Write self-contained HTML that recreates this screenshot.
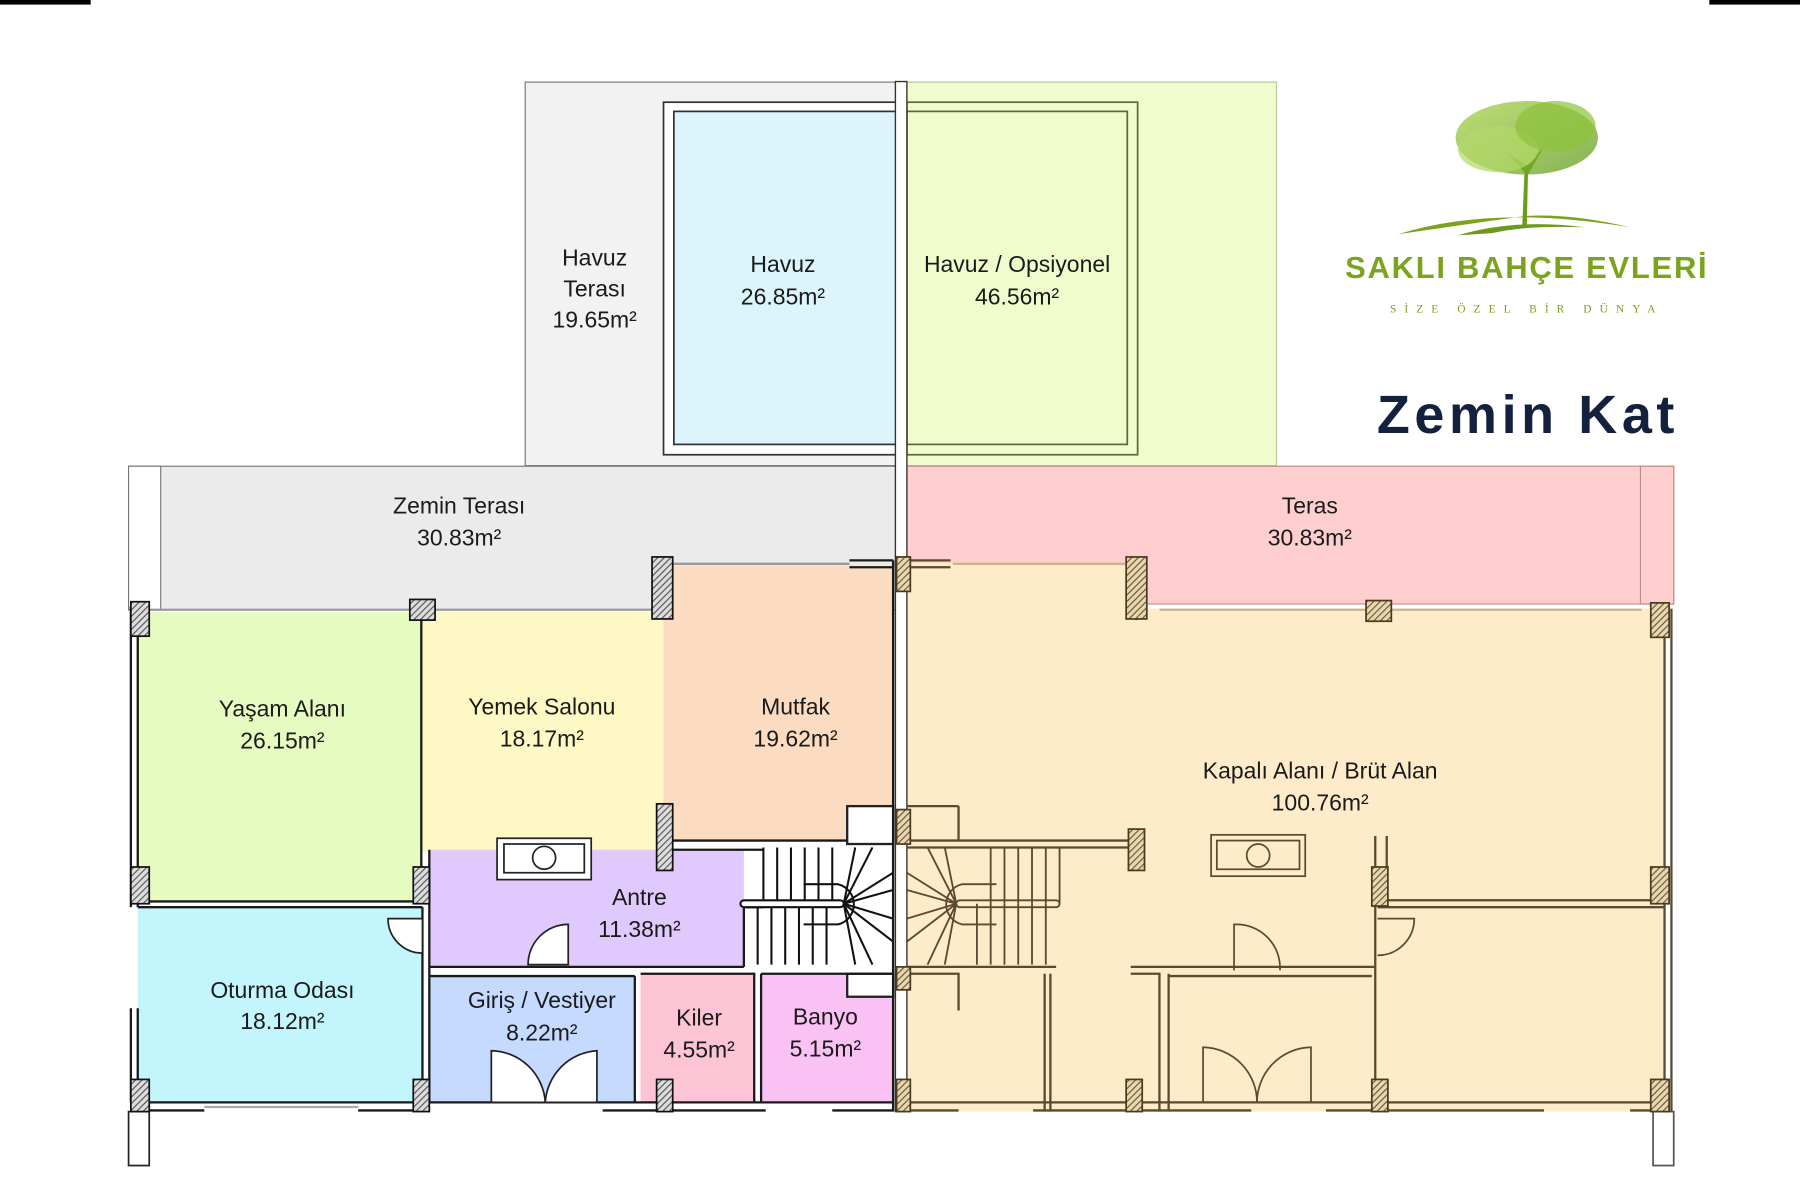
<!DOCTYPE html>
<html><head><meta charset="utf-8"><style>
html,body{margin:0;padding:0;background:#fff;width:1800px;height:1200px;overflow:hidden}
svg{display:block}
text{font-family:"Liberation Sans",sans-serif}
.l{font-size:20px;fill:#1a1a1a;text-anchor:middle}
</style></head><body>
<svg width="1800" height="1200" viewBox="0 0 1568 1045" preserveAspectRatio="none" xmlns="http://www.w3.org/2000/svg">
<defs>
<pattern id="h" width="4" height="4" patternUnits="userSpaceOnUse" patternTransform="rotate(45)"><rect width="4" height="4" fill="#ddd"/><line x1="0" y1="0" x2="0" y2="4" stroke="#555" stroke-width="2"/></pattern>
<pattern id="hb" width="4" height="4" patternUnits="userSpaceOnUse" patternTransform="rotate(45)"><rect width="4" height="4" fill="#e8d7b0"/><line x1="0" y1="0" x2="0" y2="4" stroke="#6b5633" stroke-width="2"/></pattern>
<linearGradient id="tg" x1="0" y1="0" x2="1" y2="1"><stop offset="0" stop-color="#a8d24a"/><stop offset="1" stop-color="#5f9a1c"/></linearGradient>
</defs>
<rect x="0" y="0" width="79" height="4" fill="#000"/>
<rect x="1489" y="0" width="79" height="4" fill="#000"/>

<rect x="457.5" y="71.5" width="324" height="334" fill="#f2f2f2" stroke="#777"/>
<rect x="790" y="71.5" width="322" height="334" fill="#f1fccc" stroke="#b5c88f"/>
<rect x="578" y="89" width="203" height="307" fill="#fff" stroke="#333" stroke-width="1.5"/>
<rect x="587" y="97" width="194" height="290" fill="#dcf4fc" stroke="#333" stroke-width="1.5"/>
<rect x="790" y="89" width="201" height="307" fill="none" stroke="#5a6a40" stroke-width="1.5"/>
<rect x="790" y="97" width="192" height="290" fill="none" stroke="#5a6a40" stroke-width="1.5"/>

<rect x="112" y="406" width="669" height="125" fill="#ebebeb" stroke="#777"/>
<rect x="112" y="406" width="28" height="125" fill="#fff" stroke="#777"/>
<rect x="790" y="406" width="668" height="120" fill="#ffcfcf" stroke="#c08a8a"/>
<rect x="1429" y="406" width="29" height="120" fill="#ffcfcf" stroke="#c08a8a"/>

<path d="M790 490 H1000 V530 H1450 V968 H790 Z" fill="#fdebc9"/>

<rect x="120" y="533" width="247" height="252" fill="#e6fbc0"/>
<rect x="367" y="533" width="211" height="208" fill="#fdf8c4"/>
<rect x="578" y="493" width="200" height="240" fill="#fcdcc1"/>
<rect x="375" y="740" width="290" height="102" fill="#e0c9fc"/>
<rect x="648" y="735" width="130" height="107" fill="#fff"/>
<rect x="120" y="790" width="248" height="170" fill="#c2f6fc"/>
<rect x="375" y="850" width="178" height="110" fill="#c5dafe"/>
<rect x="558" y="848" width="99" height="112" fill="#fcc4d4"/>
<rect x="663" y="848" width="115" height="112" fill="#fac1f5"/>
<rect x="738" y="702" width="40" height="33" fill="#fff" stroke="#222" stroke-width="2"/>
<rect x="738" y="848" width="40" height="20" fill="#fff" stroke="#222" stroke-width="2"/>

<g fill="none" stroke="#1a1a1a" stroke-width="2">
<path d="M120 528 V790 M114 528 V790"/>
<path d="M120 785 H368 M120 790 H368"/>
<path d="M367 533 V785"/>
<path d="M368 790 V960 M374 740 V960"/>
<path d="M375 842 H648 M375 850 H553 M553 850 V960 M558 848 H657 V960 M663 848 V960 M663 848 H778"/>
<path d="M578 732 H738 M585 740 H665 M578 700 V740"/>
<path d="M120 960 H778 M120 967 H178 M312 967 H368 M525 967 H667 M725 967 H778"/>
<path d="M114 878 V960 M120 878 V960"/>
<path d="M778 488 V968"/>
<path d="M740 488 H778 M740 494 H778"/>
<path d="M648 842 V790 H665"/>
</g>
<rect x="112" y="968" width="18" height="47" fill="#fff" stroke="#222" stroke-width="1.5"/>
<rect x="1440" y="968" width="18" height="47" fill="#fff" stroke="#555" stroke-width="1.5"/>
<rect x="780" y="71" width="10" height="897" fill="#fff" stroke="#333" stroke-width="1.2"/>
<line x1="120" y1="531" x2="578" y2="531" stroke="#999" stroke-width="2"/>
<line x1="585" y1="491" x2="740" y2="491" stroke="#999" stroke-width="2"/>
<line x1="178" y1="964" x2="312" y2="964" stroke="#aaa" stroke-width="2"/>
<g fill="url(#h)" stroke="#111" stroke-width="1.5">
<rect x="114" y="524" width="16" height="30"/>
<rect x="357" y="522" width="22" height="18"/>
<rect x="568" y="485" width="18" height="54"/>
<rect x="572" y="700" width="14" height="58"/>
<rect x="114" y="755" width="16" height="32"/>
<rect x="360" y="755" width="14" height="32"/>
<rect x="114" y="940" width="16" height="28"/>
<rect x="360" y="940" width="14" height="28"/>
<rect x="572" y="940" width="14" height="28"/>
</g>
<rect x="433" y="730" width="82" height="36" fill="#fff" stroke="#222" stroke-width="1.5"/>
<rect x="439" y="735" width="70" height="25" fill="none" stroke="#222" stroke-width="1.5"/>
<circle cx="474" cy="747" r="10" fill="none" stroke="#222" stroke-width="1.5"/>
<g fill="#fff" stroke="#222" stroke-width="1.5">
<path d="M495 805 V840 H460 A35 35 0 0 1 495 805 Z"/>
<path d="M368 800 H338 A30 30 0 0 0 368 830 Z"/>
<path d="M428 960 V915 A48 48 0 0 1 475 960 Z"/>
<path d="M520 960 V915 A48 48 0 0 0 475 960 Z"/>
</g>
<g stroke="#111" stroke-width="1.8" fill="none">
<path d="M665 738 V787 M677 738 V787 M689 738 V787 M701 738 V787 M713 738 V787 M725 738 V787"/>
<path d="M660 787 V840 M672 787 V840 M684 787 V840 M696 787 V840 M708 787 V840 M720 787 V840"/>
<path d="M735 787 L778 760 M735 787 L778 775 M735 787 L778 800 M735 787 L778 820 M735 787 L760 840 M735 787 L745 840 M735 787 L760 738 M735 787 L745 738"/>
<path d="M700 770 H730 A18 18 0 0 1 730 805 H700"/>
<rect x="645" y="784" width="90" height="6" rx="3" fill="#fff"/>
</g>
<g stroke="#5a4a30" stroke-width="1.6" fill="none" transform="translate(1568 0) scale(-1 1)">
<path d="M645 738 V787 M657 738 V787 M669 738 V787 M681 738 V787 M693 738 V787 M705 738 V787"/>
<path d="M657 787 V840 M669 787 V840 M681 787 V840 M693 787 V840 M705 787 V840 M717 787 V840"/>
<path d="M735 787 L778 760 M735 787 L778 775 M735 787 L778 800 M735 787 L778 820 M735 787 L760 840 M735 787 L745 840 M735 787 L760 738 M735 787 L745 738"/>
<path d="M700 770 H730 A18 18 0 0 1 730 805 H700"/>
<rect x="645" y="784" width="90" height="6" rx="3"/>
</g>
<g fill="none" stroke="#5a4a30" stroke-width="2">
<path d="M1450 530 V968 M1456 530 V968"/>
<path d="M790 732 H985 M790 738 H985 M835 702 V732 M790 702 H835"/>
<path d="M1200 790 H1450 M1200 784 H1450 M1198 728 V968 M1208 728 V790"/>
<path d="M790 842 H920 M790 848 H835 V880 M910 848 V968 M915 848 V968 M985 842 H1198 M985 848 H1010 V968 M1018 848 V968 M1018 850 H1195"/>
<path d="M790 960 H1450 M790 967 H835 M900 967 H1090 M1155 967 H1345 M1420 967 H1450"/>
<path d="M828 488 H790 M828 494 H790 M990 485 V540"/>
</g>
<line x1="830" y1="491" x2="980" y2="491" stroke="#c9b690" stroke-width="2"/>
<line x1="1010" y1="531" x2="1430" y2="531" stroke="#c9b690" stroke-width="2"/>
<g fill="url(#hb)" stroke="#4a3a20" stroke-width="1.5">
<rect x="781" y="485" width="12" height="30"/>
<rect x="981" y="485" width="18" height="54"/>
<rect x="1190" y="523" width="22" height="18"/>
<rect x="1438" y="525" width="16" height="30"/>
<rect x="781" y="705" width="12" height="30"/>
<rect x="983" y="722" width="14" height="36"/>
<rect x="781" y="842" width="12" height="20"/>
<rect x="1195" y="755" width="14" height="34"/>
<rect x="1438" y="755" width="16" height="32"/>
<rect x="781" y="940" width="12" height="28"/>
<rect x="981" y="940" width="14" height="28"/>
<rect x="1195" y="940" width="14" height="28"/>
<rect x="1438" y="940" width="16" height="28"/>
</g>
<rect x="1055" y="727" width="82" height="36" fill="none" stroke="#5a4a30" stroke-width="1.5"/>
<rect x="1060" y="732" width="72" height="25" fill="none" stroke="#5a4a30" stroke-width="1.5"/>
<circle cx="1096" cy="745" r="10" fill="none" stroke="#5a4a30" stroke-width="1.5"/>
<g fill="none" stroke="#5a4a30" stroke-width="1.5">
<path d="M1075 845 V805 A38 38 0 0 1 1115 845"/>
<path d="M1200 800 H1232 A32 32 0 0 1 1200 832"/>
<path d="M1048 960 V912 A48 48 0 0 1 1095 960"/>
<path d="M1142 960 V912 A48 48 0 0 0 1095 960"/>
</g>

<g>
<text class="l" x="518" y="231">Havuz</text>
<text class="l" x="518" y="258">Terası</text>
<text class="l" x="518" y="285">19.65m²</text>
<text class="l" x="682" y="237">Havuz</text>
<text class="l" x="682" y="265">26.85m²</text>
<text class="l" x="886" y="237">Havuz / Opsiyonel</text>
<text class="l" x="886" y="265">46.56m²</text>
<text class="l" x="400" y="447">Zemin Terası</text>
<text class="l" x="400" y="475">30.83m²</text>
<text class="l" x="1141" y="447">Teras</text>
<text class="l" x="1141" y="475">30.83m²</text>
<text class="l" x="246" y="624">Yaşam Alanı</text>
<text class="l" x="246" y="652">26.15m²</text>
<text class="l" x="472" y="622">Yemek Salonu</text>
<text class="l" x="472" y="650">18.17m²</text>
<text class="l" x="693" y="622">Mutfak</text>
<text class="l" x="693" y="650">19.62m²</text>
<text class="l" x="1150" y="678">Kapalı Alanı / Brüt Alan</text>
<text class="l" x="1150" y="706">100.76m²</text>
<text class="l" x="557" y="788">Antre</text>
<text class="l" x="557" y="816">11.38m²</text>
<text class="l" x="246" y="869">Oturma Odası</text>
<text class="l" x="246" y="896">18.12m²</text>
<text class="l" x="472" y="878">Giriş / Vestiyer</text>
<text class="l" x="472" y="906">8.22m²</text>
<text class="l" x="609" y="893">Kiler</text>
<text class="l" x="609" y="921">4.55m²</text>
<text class="l" x="719" y="892">Banyo</text>
<text class="l" x="719" y="920">5.15m²</text>
</g>

<g>
<path d="M1218 204 Q1300 178 1420 198 Q1370 186 1330 188 Q1300 192 1218 204 Z" fill="#7aa41e"/>
<path d="M1270 205 Q1320 190 1380 198 Q1330 196 1300 203 Z" fill="#6e9a1a"/>
<path d="M1326 198 L1328 150 L1312 132 L1330 144 L1345 128 L1331 152 L1330 198 Z" fill="#6e9a1a"/>
<ellipse cx="1330" cy="120" rx="62" ry="32" fill="url(#tg)" opacity="0.75"/>
<ellipse cx="1305" cy="130" rx="35" ry="20" fill="#b4d96a" opacity="0.7"/>
<ellipse cx="1355" cy="110" rx="35" ry="22" fill="#8cc23a" opacity="0.7"/>
</g>
<text x="1330" y="242" text-anchor="middle" style="font-size:27px;font-weight:bold;fill:#7aa41e;letter-spacing:1.5px">SAKLI BAHÇE EVLERİ</text>
<text x="1330" y="272" text-anchor="middle" style="font-family:'Liberation Serif',serif;font-size:10px;fill:#7aa41e;letter-spacing:7px">SİZE ÖZEL BİR DÜNYA</text>
<text x="1331" y="377" text-anchor="middle" style="font-size:47px;font-weight:bold;fill:#13213f;letter-spacing:4px">Zemin Kat</text>
</svg>
</body></html>
